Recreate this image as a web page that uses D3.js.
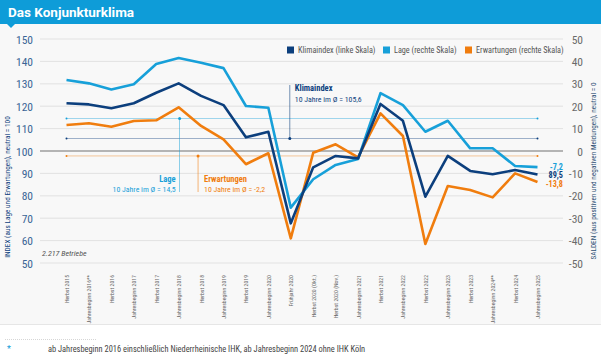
<!DOCTYPE html>
<html><head><meta charset="utf-8">
<script src="https://cdn.jsdelivr.net/npm/d3@7/dist/d3.min.js"></script>
<style>
html,body{margin:0;padding:0;background:#fff;}
svg{display:block;}
text{font-family:"Liberation Sans Narrow","Roboto Condensed",Roboto,sans-serif;}
</style></head>
<body>
<script>
const categories = ["Herbst 2015","Jahresbeginn 2016**","Herbst 2016","Jahresbeginn 2017","Herbst 2017","Jahresbeginn 2018","Herbst 2018","Jahresbeginn 2019","Herbst 2019","Jahresbeginn 2020","Frühjahr 2020","Herbst 2020 (Okt.)","Herbst 2020 (Nov.)","Jahresbeginn 2021","Herbst 2021","Jahresbeginn 2022","Herbst 2022","Jahresbeginn 2023","Herbst 2023","Jahresbeginn 2024**","Herbst 2024","Jahresbeginn 2025"];
const klimaindex = [121.3,120.8,119.1,121.3,126.0,130.2,124.6,120.5,106.1,108.6,67.7,92.7,97.8,96.7,121.0,113.5,79.6,97.8,91.1,89.6,91.5,89.5];
const lage = [31.7,30.2,27.5,29.8,38.8,41.5,39.4,37.0,20.1,19.3,-25.3,-12.6,-6.2,-3.6,25.8,20.5,8.6,13.5,1.2,1.2,-6.7,-7.2];
const erwartungen = [11.6,12.4,10.8,13.4,13.7,19.5,11.2,5.2,-5.9,-1.0,-39.0,-0.8,3.0,-2.8,16.8,6.7,-41.5,-15.6,-17.4,-20.7,-10.0,-13.8];
const averages = {klima:105.6, lage:14.5, erw:-2.2};
const leftTicks = [50,60,70,80,90,100,110,120,130,140,150];
const rightTicks = [-50,-40,-30,-20,-10,0,10,20,30,40,50];
const legendItems = ["Klimaindex (linke Skala)","Lage (rechte Skala)","Erwartungen (rechte Skala)"];
const lastLabels = ["-7,2","89,5","-13,8"];

const C = {klima:"#0c3f7d", lage:"#17a0d9", erw:"#f07d0e", header:"#0e9cd8", axis:"#3a6596"};
const W=601,H=357;
const svg=d3.select("body").append("svg").attr("width",W).attr("height",H);

svg.append("rect").attr("x",0).attr("y",0).attr("width",W).attr("height",H).attr("fill","#fff");
svg.append("rect").attr("x",0).attr("y",24).attr("width",W).attr("height",300).attr("fill","#f8f8f8");
svg.append("line").attr("x1",0).attr("x2",W).attr("y1",324.5).attr("y2",324.5).attr("stroke","#e6e6e6");
// header
svg.append("rect").attr("x",0).attr("y",0).attr("width",W).attr("height",24).attr("fill",C.header);
svg.append("path").attr("d","M7,24 L15,24 L11,28 Z").attr("fill",C.header);
svg.append("text").attr("x",8).attr("y",16.5).attr("fill","#fff").attr("font-size",13.5).attr("font-weight","bold")
  .style("font-family","'Liberation Sans Narrow',Roboto,sans-serif").text("Das Konjunkturklima");

const x=d3.scalePoint().domain(categories).range([66.5,537.5]);
const yL=d3.scaleLinear().domain([50,150]).range([263,39]);
const yR=d3.scaleLinear().domain([-50,50]).range([263,39]);

// gridlines
const g=svg.append("g");
g.selectAll("line.grid").data(leftTicks.filter(d=>d!==100)).join("line")
  .attr("x1",40).attr("x2",563).attr("y1",d=>yL(d)).attr("y2",d=>yL(d))
  .attr("stroke","#dcdcdc").attr("stroke-width",0.8);
g.append("line").attr("x1",40).attr("x2",563).attr("y1",yL(100)).attr("y2",yL(100))
  .attr("stroke","#b4b4b4").attr("stroke-width",2);

// axes
const axL=d3.axisLeft(yL).tickValues(leftTicks).tickSize(0).tickPadding(0);
const gl=svg.append("g").attr("transform","translate(33,0)").call(axL);
gl.select(".domain").remove();
gl.selectAll("text").attr("fill",C.axis).attr("font-size",11.5).attr("dy","0.35em");
const axR=d3.axisRight(yR).tickValues(rightTicks).tickSize(0).tickPadding(0).tickFormat(d=>d);
const gr=svg.append("g").attr("transform","translate(583,0)").call(axR);
gr.select(".domain").remove();
gr.selectAll("text").attr("fill","#6a6a6a").attr("font-size",11.5).attr("text-anchor","end").attr("dy","0.35em");

// x axis labels
const axX=d3.axisBottom(x).tickSize(0).tickPadding(0);
const gx=svg.append("g").attr("transform","translate(0,275)").call(axX);
gx.select(".domain").remove();
gx.selectAll("text").attr("fill","#666").attr("font-size",5.8)
  .attr("transform","rotate(-90)").attr("text-anchor","end").attr("x",0).attr("y",0).attr("dy","0.35em");

// axis titles
svg.append("text").attr("transform","translate(10,187) rotate(-90)").attr("text-anchor","middle")
  .attr("fill",C.klima).attr("font-size",7.3).text("INDEX (aus Lage und Erwartungen), neutral = 100");
svg.append("text").attr("transform","translate(596,171) rotate(-90)").attr("text-anchor","middle")
  .attr("fill","#2d4f73").attr("font-size",7.3).text("SALDEN (aus positiven und negativen Meldungen), neutral = 0");

// average lines
const avgs=[{v:yR(averages.lage),c:C.lage},{v:yL(averages.klima),c:C.klima},{v:yR(averages.erw),c:C.erw}];
avgs.forEach(a=>{
  svg.append("line").attr("x1",x(categories[0])).attr("x2",x(categories[categories.length-1]))
    .attr("y1",a.v).attr("y2",a.v).attr("stroke",a.c).attr("stroke-width",0.8).attr("opacity",0.5);
  [x(categories[0]),x(categories[categories.length-1])].forEach(px=>
    svg.append("circle").attr("cx",px).attr("cy",a.v).attr("r",1).attr("fill",a.c));
});

// annotations
function annot(px,py,y2,color){
  svg.append("line").attr("x1",px).attr("x2",px).attr("y1",py).attr("y2",y2).attr("stroke",color).attr("stroke-width",0.7).attr("opacity",0.8);
  svg.append("circle").attr("cx",px).attr("cy",py).attr("r",1.5).attr("fill",color);
}
const lx=x(categories[5])+1, ex=x(categories[6])-3, kx=x(categories[10])-1;
annot(lx,yR(averages.lage),192,C.lage);
annot(ex,yR(averages.erw),192,C.erw);
annot(kx,yL(averages.klima),85,C.klima);
svg.append("text").attr("x",lx-4).attr("y",182).attr("text-anchor","end").attr("fill",C.lage).attr("font-size",8.5).attr("font-weight","bold").text("Lage");
svg.append("text").attr("x",lx-4).attr("y",191.5).attr("text-anchor","end").attr("fill",C.lage).attr("font-size",7.8).text("10 Jahre im Ø = 14,5");
svg.append("text").attr("x",ex+6).attr("y",182).attr("fill",C.erw).attr("font-size",8.5).attr("font-weight","bold").text("Erwartungen");
svg.append("text").attr("x",ex+6).attr("y",191.5).attr("fill",C.erw).attr("font-size",7.8).text("10 Jahre im Ø = -2,2");
svg.append("text").attr("x",kx+5).attr("y",91).attr("fill",C.klima).attr("font-size",8.5).attr("font-weight","bold").text("Klimaindex");
svg.append("text").attr("x",kx+5).attr("y",102).attr("fill",C.klima).attr("font-size",7.8).text("10 Jahre im Ø = 105,6");

// series lines
const lineL=d3.line().x((d,i)=>x(categories[i])).y(d=>yL(d));
const lineR=d3.line().x((d,i)=>x(categories[i])).y(d=>yR(d));
svg.append("path").datum(erwartungen).attr("d",lineR).attr("fill","none").attr("stroke",C.erw).attr("stroke-width",2.6).attr("stroke-linejoin","round");
svg.append("path").datum(lage).attr("d",lineR).attr("fill","none").attr("stroke",C.lage).attr("stroke-width",2.6).attr("stroke-linejoin","round");
svg.append("path").datum(klimaindex).attr("d",lineL).attr("fill","none").attr("stroke",C.klima).attr("stroke-width",2.6).attr("stroke-linejoin","round");

// end labels
const endCols=[C.lage,C.klima,C.erw];
const endY=[169.5,178,187];
lastLabels.forEach((t,i)=>svg.append("text").attr("x",563).attr("y",endY[i]).attr("text-anchor","end")
  .attr("fill",endCols[i]).attr("font-size",8.2).attr("font-weight","bold").text(t));

// legend
const legX=[287,383,465];
legendItems.forEach((t,i)=>{
  svg.append("rect").attr("x",legX[i]).attr("y",46.5).attr("width",7).attr("height",7).attr("fill",[C.klima,C.lage,C.erw][i]);
  svg.append("text").attr("x",legX[i]+11).attr("y",53).attr("fill","#555").attr("font-size",8.2).text(t);
});

// note
svg.append("text").attr("x",42).attr("y",256).attr("fill","#555").attr("font-size",8).attr("font-style","italic").text("2.217 Betriebe");

// footnote
svg.append("line").attr("x1",5).attr("x2",97).attr("y1",339.5).attr("y2",339.5).attr("stroke","#bbb").attr("stroke-width",0.6).attr("stroke-dasharray","1,1");
svg.append("text").attr("x",7).attr("y",352).attr("fill",C.header).attr("font-size",9).text("*");
svg.append("text").attr("x",48).attr("y",352).attr("fill","#444").attr("font-size",8.4).text("ab Jahresbeginn 2016 einschließlich Niederrheinische IHK, ab Jahresbeginn 2024 ohne IHK Köln");
</script>
</body></html>
